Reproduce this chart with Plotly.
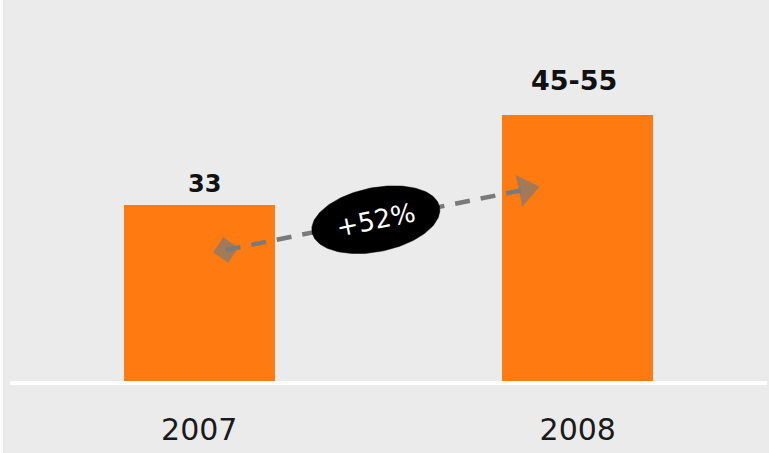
import math
import plotly.graph_objects as go

# ---- data -------------------------------------------------------------
YEARS = ["2007", "2008"]
VOLUMES = [33, 50]              # 2008 drawn at the mid-point of its range
VALUE_LABELS = ["33", "45-55"]

# ---- page / axes geometry ---------------------------------------------
W, H = 769, 453
X_DOMAIN = (10 / W, 767 / W)
Y_DOMAIN = (72 / H, 1.0)
X_RANGE = (-0.5, 1.5)
Y_RANGE = (0, 71.6)

BG = "#ebebeb"
BAR_COLOR = "#ff7a10"
ARROW_COLOR = "#7a7a7a"
FONT = "DejaVu Sans"

# growth arrow: x position of each end and its height as a share of the bar
ARROW_X = (0.07, 0.863)
ARROW_Y_SHARE = (0.746, 0.72)

# growth badge: ellipse semi-axes in pixels
BADGE_A, BADGE_B = 65, 32

# value label offsets in pixels (xshift, yshift) and font sizes
LABEL_SHIFTS = [(5, 5), (-4, 17)]
LABEL_SIZES = [24, 27]

px_x = W * (X_DOMAIN[1] - X_DOMAIN[0]) / (X_RANGE[1] - X_RANGE[0])
px_y = H * (Y_DOMAIN[1] - Y_DOMAIN[0]) / (Y_RANGE[1] - Y_RANGE[0])

xs = list(range(len(YEARS)))

fig = go.Figure()

fig.add_trace(go.Bar(
    x=xs, y=VOLUMES, width=0.4,
    marker=dict(color=BAR_COLOR, line=dict(width=0)),
    hoverinfo="skip", showlegend=False,
))

# arrow from the 2007 bar up to the 2008 bar
ax_pts = list(ARROW_X)
ay_pts = [s * v for s, v in zip(ARROW_Y_SHARE, VOLUMES)]
theta = math.atan2((ay_pts[1] - ay_pts[0]) * px_y, (ax_pts[1] - ax_pts[0]) * px_x)
angle_deg = math.degrees(theta)

fig.add_trace(go.Scatter(
    x=ax_pts, y=ay_pts, mode="lines+markers",
    line=dict(color=ARROW_COLOR, width=4.5, dash="15px,11px"),
    marker=dict(symbol=["diamond", "triangle-right"], size=[20, 28],
                angle=-angle_deg, color=ARROW_COLOR, line=dict(width=0)),
    hoverinfo="skip", showlegend=False,
))

# black ellipse carrying the growth figure, tilted along the arrow
cx = (ax_pts[0] + ax_pts[1]) / 2
cy = (ay_pts[0] + ay_pts[1]) / 2
ex, ey = [], []
n = 160
for i in range(n + 1):
    t = 2 * math.pi * i / n
    lx, ly = BADGE_A * math.cos(t), BADGE_B * math.sin(t)
    rx = lx * math.cos(theta) - ly * math.sin(theta)
    ry = lx * math.sin(theta) + ly * math.cos(theta)
    ex.append(cx + rx / px_x)
    ey.append(cy + ry / px_y)

fig.add_trace(go.Scatter(
    x=ex, y=ey, mode="lines", fill="toself", fillcolor="#000000",
    line=dict(color="#000000", width=0.5),
    hoverinfo="skip", showlegend=False,
))

growth = round((VOLUMES[1] / VOLUMES[0] - 1) * 100)
annotations = [dict(
    x=cx, y=cy, xref="x", yref="y", text=f"+{growth}%", showarrow=False,
    textangle=-angle_deg, font=dict(family=FONT, size=26, color="#ffffff"),
    xanchor="center", yanchor="middle",
)]

for x, v, lab, (dx, dy), fs in zip(xs, VOLUMES, VALUE_LABELS, LABEL_SHIFTS, LABEL_SIZES):
    annotations.append(dict(
        x=x, y=v, xref="x", yref="y", text=lab, showarrow=False,
        xanchor="center", yanchor="bottom", xshift=dx, yshift=dy,
        font=dict(family=FONT, size=fs, color="#111111", weight="bold"),
    ))

# thin white strip on the left edge
shapes = [dict(type="rect", xref="paper", yref="paper", x0=0, x1=3 / W, y0=0, y1=1,
               fillcolor="#ffffff", line=dict(width=0), layer="below")]

fig.update_layout(
    width=W, height=H, autosize=False,
    margin=dict(l=0, r=0, t=0, b=0, pad=0),
    paper_bgcolor=BG, plot_bgcolor=BG,
    annotations=annotations, shapes=shapes,
    xaxis=dict(
        domain=list(X_DOMAIN), range=list(X_RANGE), type="linear",
        tickvals=xs, ticktext=YEARS, ticks="", showgrid=False, zeroline=False,
        showline=True, linecolor="#ffffff", linewidth=4,
        ticklabelstandoff=19, automargin=False,
        tickfont=dict(family=FONT, size=30, color="#1a1a1a"),
        fixedrange=True,
    ),
    yaxis=dict(
        domain=list(Y_DOMAIN), range=list(Y_RANGE), automargin=False,
        visible=False, showgrid=False, zeroline=False, fixedrange=True,
    ),
    bargap=0,
)

fig.write_html("out.html")
